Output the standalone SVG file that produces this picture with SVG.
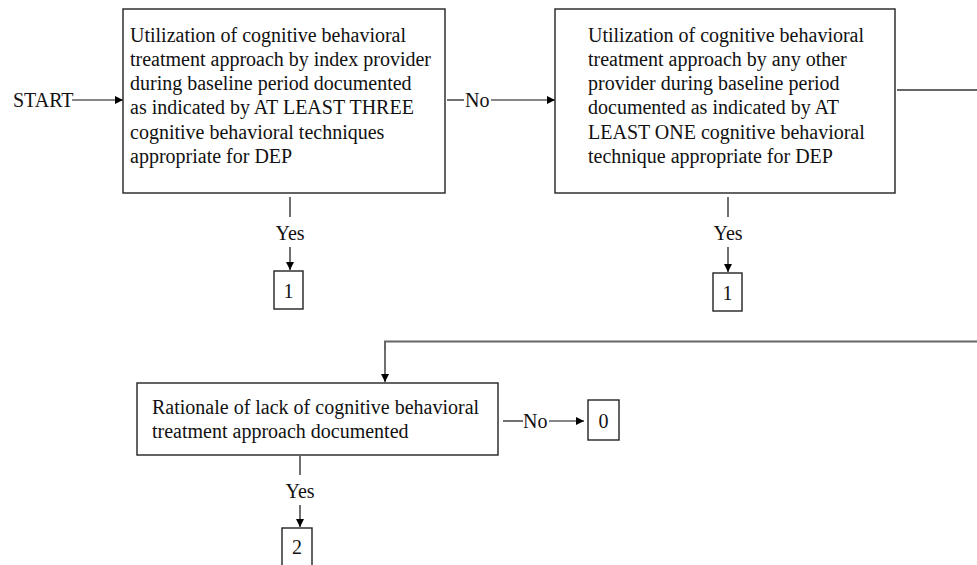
<svg xmlns="http://www.w3.org/2000/svg" width="977" height="565" viewBox="0 0 977 565">
<defs>
<marker id="ah" viewBox="0 0 10 10" refX="10" refY="5" markerWidth="10" markerHeight="8" markerUnits="userSpaceOnUse" orient="auto"><path d="M0,0 L10,5 L0,10 Z" fill="#000"/></marker>
<style>
text{font-family:"Liberation Serif","Times New Roman",serif;font-size:20px;fill:#111}
.box{fill:#fff;stroke:#222;stroke-width:1.4}
.c{stroke:#111;stroke-width:1.2;fill:none}
.g{stroke:#666;stroke-width:2;fill:none}
.m{text-anchor:middle}
</style>
</defs>
<rect width="977" height="565" fill="#fff"/>
<g id="connectors">
<text x="13" y="107">START</text>
<line class="c" x1="72" y1="100" x2="123" y2="100" marker-end="url(#ah)"/>
<line class="c" x1="447" y1="100" x2="464" y2="100"/>
<text x="465" y="107">No</text>
<line class="c" x1="491" y1="100" x2="555" y2="100" marker-end="url(#ah)"/>
<line class="c" x1="290" y1="197" x2="290" y2="217"/>
<text class="m" x="290" y="240">Yes</text>
<line class="c" x1="290" y1="247" x2="290" y2="270" marker-end="url(#ah)"/>
<line class="c" x1="728" y1="197" x2="728" y2="217"/>
<text class="m" x="728" y="240">Yes</text>
<line class="c" x1="728" y1="247" x2="728" y2="272" marker-end="url(#ah)"/>
<line class="g" x1="897" y1="90" x2="977" y2="90"/>
<polyline class="g" points="977,341.5 385,341.5 385,350"/>
<line class="c" x1="385" y1="350" x2="385" y2="382" marker-end="url(#ah)"/>
<line class="c" x1="503" y1="421" x2="523" y2="421"/>
<text x="523" y="428">No</text>
<line class="c" x1="549" y1="421" x2="584" y2="421" marker-end="url(#ah)"/>
<line class="c" x1="300" y1="456" x2="300" y2="475"/>
<text class="m" x="300" y="498">Yes</text>
<line class="c" x1="300" y1="505" x2="300" y2="527" marker-end="url(#ah)"/>
</g>
<g id="n1">
<rect class="box" x="123" y="9" width="322" height="184"/>
<text x="130" y="42">Utilization of cognitive behavioral</text>
<text x="130" y="66">treatment approach by index provider</text>
<text x="130" y="90">during baseline period documented</text>
<text x="130" y="114">as indicated by AT LEAST THREE</text>
<text x="130" y="139">cognitive behavioral techniques</text>
<text x="130" y="163">appropriate for DEP</text>
</g>
<g id="n2">
<rect class="box" x="555" y="9" width="340" height="184"/>
<text x="588" y="42">Utilization of cognitive behavioral</text>
<text x="588" y="66">treatment approach by any other</text>
<text x="588" y="90">provider during baseline period</text>
<text x="588" y="114">documented as indicated by AT</text>
<text x="588" y="139">LEAST ONE cognitive behavioral</text>
<text x="588" y="163">technique appropriate for DEP</text>
</g>
<g id="n1a">
<rect class="box" x="274" y="271" width="29" height="38"/>
<text class="m" x="288.5" y="298">1</text>
</g>
<g id="n2a">
<rect class="box" x="713" y="273" width="29" height="38"/>
<text class="m" x="727.5" y="300">1</text>
</g>
<g id="n3">
<rect class="box" x="137" y="383" width="361" height="72"/>
<text x="152" y="414">Rationale of lack of cognitive behavioral</text>
<text x="152" y="438">treatment approach documented</text>
</g>
<g id="n0">
<rect class="box" x="588" y="400" width="31" height="40"/>
<text class="m" x="603.5" y="428">0</text>
</g>
<g id="n2b">
<rect class="box" x="282" y="528" width="30" height="40"/>
<text class="m" x="297" y="554">2</text>
</g>
</svg>
